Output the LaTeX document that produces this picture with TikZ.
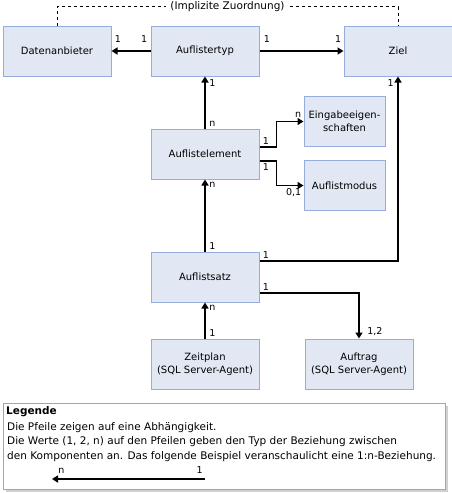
\documentclass[tikz,border=0pt]{standalone}
\usepackage{fontspec}
\setmainfont{DejaVu Sans}
\usepackage{xcolor}
\usetikzlibrary{positioning,arrows.meta}

\definecolor{boxfill}{HTML}{E1E8F4}
\definecolor{boxline}{HTML}{95ADDC}

\begin{document}
\begin{tikzpicture}[x=1pt, y=-1pt, node distance={40pt},
    >={Triangle[width=7pt,length=6pt]},
    main/.style = {rectangle, draw=boxline, fill=boxfill, line width=1pt, minimum width=108pt, minimum height=50pt, align=center, font=\fontsize{10}{12.5}\selectfont},
    small/.style = {main, minimum width=81pt},
    lbl/.style = {inner sep=1.5pt, font=\fontsize{9.5}{11}\selectfont},
    conn/.style = {line width=1.5pt}]
    \useasboundingbox (0,0) rectangle (451,493);

    \node[main] (2) at (205,51) {Auflistertyp};
    \node[main] (1) [left=39pt of 2] {Datenanbieter};
    \node[main] (3) [right=84pt of 2] {Ziel};
    \node[main] (4) [below=52pt of 2] {Auflistelement};
    \node[small] (5) at (344.5,121.5) {Eingabeeigen-\\schaften};
    \node[small] (6) [below=13pt of 5] {Auflistmodus};
    \node[main] (7) [below=72pt of 4] {Auflistsatz};
    \node[main] (8) [below=36pt of 7] {Zeitplan\\(SQL Server-Agent)};
    \node[main] (9) [right=45pt of 8] {Auftrag\\(SQL Server-Agent)};

    % implizite Zuordnung
    \coordinate (d1) at ([yshift=19pt]1.north);
    \draw[dashed, line width=1pt] (1.north) -- (d1) -- node[lbl, fill=white, inner xsep=4pt, font=\fontsize{10.5}{12}\selectfont] {(Implizite Zuordnung)} (d1 -| 3.north) -- (3.north);

    \path[->, conn] (2) edge node[lbl, at start, above left, yshift=6pt, xshift=-1pt] {1} node[lbl, at end, above right, yshift=6pt, xshift=1pt] {1} (1);
    \path[->, conn] (2) edge node[lbl, at start, above right, yshift=6pt, xshift=2pt] {1} node[lbl, at end, above left, yshift=6pt] {1} (3);

    \path[->, conn] (4) edge node[lbl, at start, above right, xshift=2pt] {n} node[lbl, at end, below right, xshift=2pt, yshift=-1pt] {1} (2);
    \path[->, conn] (7) edge node[lbl, at start, above right, xshift=2pt] {1} node[lbl, at end, below right, xshift=2pt] {n} (4);
    \path[->, conn] (8) edge node[lbl, at start, above right, xshift=2pt] {1} node[lbl, at end, below right, xshift=2pt] {n} (7);

    \draw[->, conn] ([yshift=7pt]4.east) node[lbl, above right, xshift=1pt] {1} -- ++(17,0) |- (5.west) node[lbl, above left, yshift=2pt] {n};
    \draw[->, conn] ([yshift=-7pt]4.east) node[lbl, below right, xshift=1pt] {1} -- ++(17,0) |- (6.west) node[lbl, below left, yshift=-1pt] {0,1};

    \draw[->, conn] ([yshift=16pt]7.east) node[lbl, above right, xshift=1pt] {1} -| (3.south) node[lbl, below left, xshift=-2pt, yshift=-1pt] {1};
    \draw[->, conn] ([yshift=-16pt]7.east) node[lbl, above right, xshift=1pt] {1} -| (9.north) node[lbl, above right, xshift=6pt, yshift=1pt] {1,2};

    % Legende
    \fill[black!18] (6,406) rectangle (448,492);
    \node[draw=black!35, fill=white, line width=1pt, minimum width=442pt, minimum height=86pt, anchor=north west] (10) at (3,403) {};
    \node[anchor=west, inner sep=0pt, font=\fontsize{10.5}{12}\selectfont\bfseries] (11) at (6,412) {Legende};
    \node[anchor=north west, inner sep=0pt, align=left, font=\fontsize{10.5}{14.5}\selectfont] (12) at (7,422) {Die Pfeile zeigen auf eine Abhängigkeit.\\Die Werte (1, 2, n) auf den Pfeilen geben den Typ der Beziehung zwischen\\den Komponenten an. Das folgende Beispiel veranschaulicht eine 1:n-Beziehung.};
    \coordinate (l1) at (205,479);
    \coordinate (l2) at (52,479);
    \draw[->, conn] (l1) node[lbl, above left, yshift=3pt] {1} -- (l2) node[lbl, above right, xshift=4pt, yshift=3pt] {n};

\end{tikzpicture}
\end{document}
